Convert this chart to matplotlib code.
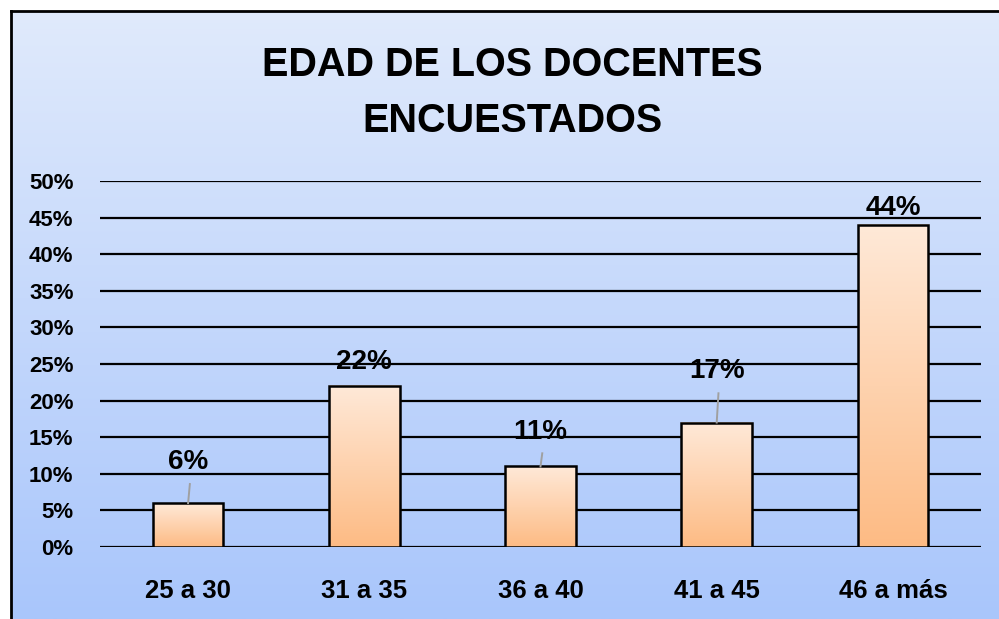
import numpy as np
import matplotlib
matplotlib.use("Agg")
import matplotlib.pyplot as plt
from matplotlib.colors import LinearSegmentedColormap

plt.rcParams["font.family"] = ["Liberation Sans", "DejaVu Sans"]
plt.rcParams["font.weight"] = "bold"

# data
categories = ["25 a 30", "31 a 35", "36 a 40", "41 a 45", "46 a más"]
values = [6, 22, 11, 17, 44]
value_labels = ["6%", "22%", "11%", "17%", "44%"]
label_y = [11.6, 25.3, 15.7, 24.0, 46.3]       # where Excel dragged the labels
leader_top = [8.6, None, 12.8, 21.0, None]      # leader line top end
yticks = [0, 5, 10, 15, 20, 25, 30, 35, 40, 45, 50]

W, H = 999, 619
fig = plt.figure(figsize=(W / 100, H / 100), dpi=100)

# chart area background: blue vertical gradient, black frame at left/top
bg = fig.add_axes([11 / W, 0, 1 - 11 / W, 1 - 11 / H])
bg_cmap = LinearSegmentedColormap.from_list("bg", ["#e0eafc", "#a9c6fb"])
bg.imshow(np.linspace(0, 1, 256).reshape(-1, 1), aspect="auto", cmap=bg_cmap,
          extent=[0, 1, 0, 1], origin="upper")
bg.set_xticks([]); bg.set_yticks([])
for s in ["right", "bottom"]:
    bg.spines[s].set_visible(False)
for s in ["left", "top"]:
    bg.spines[s].set_linewidth(2)

fig.text(512 / W, 1 - 93 / H, "EDAD DE LOS DOCENTES\nENCUESTADOS", ha="center",
         va="center", fontsize=28.5, fontweight="bold", linespacing=1.6)

# plot area
x0, x1, ytop, ybot = 100, 981, 181, 547
ax = fig.add_axes([x0 / W, 1 - ybot / H, (x1 - x0) / W, (ybot - ytop) / H])
ax.patch.set_alpha(0)
ax.set_xlim(-0.5, len(categories) - 0.5)
ax.set_ylim(0, 50)
ax.set_yticks(yticks)
ax.set_yticklabels([f"{t}%" for t in yticks], fontsize=16, fontweight="bold")
ax.yaxis.grid(True, color="black", linewidth=1.6)
ax.set_axisbelow(True)
for s in ax.spines.values():
    s.set_visible(False)
ax.tick_params(axis="y", length=0, pad=19)
ax.tick_params(axis="x", length=0, pad=23)
ax.set_xticks(range(len(categories)))
ax.set_xticklabels(categories, fontsize=18.5, fontweight="bold")

bar_cmap = LinearSegmentedColormap.from_list("bar", ["#fdbb84", "#ffe9d8"])
grad = np.linspace(0, 1, 256).reshape(-1, 1)
bw = 0.4
for i, v in enumerate(values):
    ax.imshow(grad, aspect="auto", cmap=bar_cmap, origin="lower",
              extent=[i - bw / 2, i + bw / 2, 0, v], zorder=2)
    ax.add_patch(plt.Rectangle((i - bw / 2, 0), bw, v, fill=False,
                               edgecolor="black", linewidth=1.8, zorder=3))
    if leader_top[i] is not None:
        ax.plot([i, i + 0.01], [v, leader_top[i]], color="#a0a0a0",
                linewidth=1.4, zorder=3)
    ax.text(i, label_y[i], value_labels[i], ha="center", va="center",
            fontsize=20, fontweight="bold", zorder=4)
ax.set_xlim(-0.5, len(categories) - 0.5)
ax.set_ylim(0, 50)

fig.savefig("out.png", dpi=100)
